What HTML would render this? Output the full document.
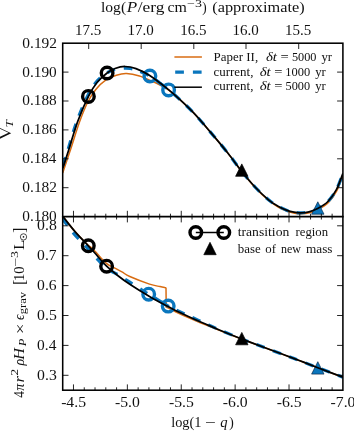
<!DOCTYPE html>
<html><head><meta charset="utf-8"><title>plot</title>
<style>
html,body{margin:0;padding:0;background:#fff;}
svg{display:block;will-change:transform;}
text{font-family:"Liberation Serif",serif;fill:#111;}
.i{font-style:italic;}
</style></head><body>
<svg width="354" height="432" viewBox="0 0 354 432">
<rect width="354" height="432" fill="#fff"/>
<defs><clipPath id="ct"><rect x="62.70" y="43.20" width="280.20" height="173.40"/></clipPath><clipPath id="cb"><rect x="62.70" y="216.60" width="280.20" height="173.60"/></clipPath></defs>
<g clip-path="url(#ct)" fill="none" stroke-linejoin="round">
<path d="M62.70,172.90 C63.98,169.08 67.60,158.48 70.40,150.00 C73.20,141.52 76.60,130.00 79.50,122.00 C82.40,114.00 85.08,107.43 87.80,102.00 C90.52,96.57 92.77,93.08 95.80,89.40 C98.83,85.72 102.57,82.27 106.00,79.90 C109.43,77.53 112.98,76.25 116.40,75.20 C119.82,74.15 122.65,73.47 126.50,73.60 C130.35,73.73 135.22,74.72 139.50,76.00 C143.78,77.28 148.62,79.72 152.20,81.30 C155.78,82.88 158.28,84.05 161.00,85.50 C163.72,86.95 165.28,87.58 168.50,90.00 C171.72,92.42 176.02,96.12 180.30,100.05 C184.58,103.97 189.20,108.23 194.20,113.55 C199.20,118.87 204.65,125.32 210.30,131.95 C215.95,138.58 222.80,146.70 228.10,153.35 C233.40,160.00 237.53,166.07 242.10,171.85 C246.67,177.62 251.02,183.18 255.50,188.00 C259.98,192.82 265.23,197.63 269.00,200.80 C272.77,203.97 275.02,205.23 278.10,207.00 C281.18,208.77 284.77,210.37 287.50,211.40 C290.23,212.43 292.18,212.80 294.50,213.20 C296.82,213.60 298.90,213.87 301.40,213.80 C303.90,213.73 306.70,213.50 309.50,212.80 C312.30,212.10 315.05,211.32 318.20,209.60 C321.35,207.88 325.28,205.67 328.40,202.50 C331.52,199.33 334.40,195.28 336.90,190.60 C339.40,185.92 342.32,177.10 343.40,174.40" stroke="#d86c12" stroke-width="1.5"/>
<path d="M62.70,166.50 C63.57,163.75 65.58,157.42 67.90,150.00 C70.22,142.58 73.32,131.00 76.60,122.00 C79.88,113.00 84.32,102.67 87.60,96.00 C90.88,89.33 93.30,85.70 96.30,82.00 C99.30,78.30 103.32,75.58 105.60,73.80 C107.88,72.02 108.33,72.03 110.00,71.30 C111.67,70.57 113.27,69.92 115.60,69.40 C117.93,68.88 121.55,68.35 124.00,68.20 C126.45,68.05 128.13,68.18 130.30,68.50 C132.47,68.82 133.73,68.85 137.00,70.10 C140.27,71.35 146.07,73.82 149.90,76.00 C153.73,78.18 156.88,80.88 160.00,83.20 C163.12,85.52 167.17,88.78 168.60,89.90" stroke="#0a76bd" stroke-width="3.2" stroke-dasharray="8.7 8.7" stroke-dashoffset="-1.2"/>
<path d="M160.00,83.20 C161.43,84.32 165.27,87.15 168.60,89.90 C171.93,92.65 175.78,95.82 180.00,99.70 C184.22,103.58 188.90,107.88 193.90,113.20 C198.90,118.52 204.35,124.97 210.00,131.60 C215.65,138.23 222.50,146.35 227.80,153.00 C233.10,159.65 237.27,165.83 241.80,171.50 C246.33,177.17 250.55,182.28 255.00,187.00 C259.45,191.72 264.73,196.63 268.50,199.80 C272.27,202.97 274.52,204.23 277.60,206.00 C280.68,207.77 284.27,209.37 287.00,210.40 C289.73,211.43 291.68,211.80 294.00,212.20 C296.32,212.60 298.40,212.87 300.90,212.80 C303.40,212.73 306.20,212.50 309.00,211.80 C311.80,211.10 314.55,210.32 317.70,208.60 C320.85,206.88 324.78,204.67 327.90,201.50 C331.02,198.33 333.90,194.28 336.40,189.60 C338.90,184.92 341.82,176.10 342.90,173.40" stroke="#0a76bd" stroke-width="3.2" stroke-dasharray="8.7 8.7" stroke-dashoffset="0.3"/>
<circle cx="149.9" cy="76.0" r="5.80" fill="none" stroke="#0a76bd" stroke-width="3.4"/>
<circle cx="168.6" cy="89.9" r="5.80" fill="none" stroke="#0a76bd" stroke-width="3.4"/>
<path d="M317.80,201.80 L324.00,214.20 L311.60,214.20 Z" fill="#0a76bd" stroke="#0a2a4a" stroke-width="0.7" stroke-linejoin="miter"/>
<path d="M62.70,168.50 C63.70,165.42 66.23,157.75 68.70,150.00 C71.17,142.25 74.22,130.93 77.50,122.00 C80.78,113.07 85.15,102.98 88.40,96.40 C91.65,89.82 93.88,86.40 97.00,82.50 C100.12,78.60 104.10,75.33 107.10,73.00 C110.10,70.67 112.02,69.58 115.00,68.50 C117.98,67.42 121.50,66.48 125.00,66.50 C128.50,66.52 131.88,67.10 136.00,68.60 C140.12,70.10 144.28,72.00 149.70,75.50 C155.12,79.00 163.45,85.57 168.50,89.60 C173.55,93.63 175.77,95.77 180.00,99.70 C184.23,103.63 188.90,107.88 193.90,113.20 C198.90,118.52 204.35,124.97 210.00,131.60 C215.65,138.23 222.50,146.35 227.80,153.00 C233.10,159.65 237.27,165.83 241.80,171.50 C246.33,177.17 250.55,182.28 255.00,187.00 C259.45,191.72 264.73,196.63 268.50,199.80 C272.27,202.97 274.52,204.23 277.60,206.00 C280.68,207.77 284.27,209.37 287.00,210.40 C289.73,211.43 291.68,211.80 294.00,212.20 C296.32,212.60 298.40,212.87 300.90,212.80 C303.40,212.73 306.20,212.50 309.00,211.80 C311.80,211.10 314.55,210.32 317.70,208.60 C320.85,206.88 324.78,204.67 327.90,201.50 C331.02,198.33 333.90,194.28 336.40,189.60 C338.90,184.92 341.82,176.10 342.90,173.40" stroke="#000" stroke-width="1.75"/>
<circle cx="88.4" cy="96.4" r="5.80" fill="none" stroke="#000" stroke-width="3.4"/>
<circle cx="107.1" cy="73.0" r="5.80" fill="none" stroke="#000" stroke-width="3.4"/>
<path d="M241.80,163.90 L248.00,176.30 L235.60,176.30 Z" fill="#000" stroke="#000" stroke-width="0.7" stroke-linejoin="miter"/>
</g>
<g clip-path="url(#cb)" fill="none" stroke-linejoin="miter">
<path d="M62.70,216.60 C64.75,219.08 71.45,227.40 75.00,231.50 C78.55,235.60 81.78,238.90 84.00,241.20 C86.22,243.50 86.97,244.10 88.30,245.30 C89.63,246.50 90.80,247.32 92.00,248.40 C93.20,249.48 93.97,250.15 95.50,251.80 C97.03,253.45 99.38,256.38 101.20,258.30 C103.02,260.22 104.87,262.03 106.40,263.30 C107.93,264.57 108.82,265.00 110.40,265.90 C111.98,266.80 113.90,267.65 115.90,268.70 C117.90,269.75 120.08,270.90 122.40,272.20 C124.72,273.50 125.28,274.52 129.80,276.50 C134.32,278.48 144.47,282.42 149.50,284.10 C154.53,285.78 157.32,285.98 160.00,286.60 C162.68,287.22 164.67,287.60 165.60,287.80 L166.0,288.2 L166.2,307.0 C167.83,307.83 172.03,310.12 176.00,312.00 C179.97,313.88 185.17,316.20 190.00,318.30 C194.83,320.40 200.10,322.58 205.00,324.60 C209.90,326.62 213.27,327.98 219.40,330.40 C225.53,332.82 236.70,337.13 241.80,339.10 C246.90,341.07 242.97,339.57 250.00,342.20 C257.03,344.83 275.67,351.78 284.00,354.90 C292.33,358.02 294.37,358.75 300.00,360.90 C305.63,363.05 310.65,365.07 317.80,367.80 C324.95,370.53 338.72,375.72 342.90,377.30" stroke="#d86c12" stroke-width="1.5"/>
<path d="M61.60,217.50 C63.58,220.10 69.30,228.13 73.50,233.10 C77.70,238.07 83.12,243.30 86.80,247.30 C90.48,251.30 92.57,253.78 95.60,257.10 C98.63,260.42 102.35,264.82 105.00,267.20 C107.65,269.58 109.67,270.33 111.50,271.40 C113.33,272.47 113.08,271.88 116.00,273.60 C118.92,275.32 124.67,278.95 129.00,281.70 C133.33,284.45 138.73,288.02 142.00,290.10 C145.27,292.18 146.02,292.62 148.60,294.20 C151.18,295.78 154.23,297.62 157.50,299.60 C160.77,301.58 166.42,305.02 168.20,306.10" stroke="#0a76bd" stroke-width="3.2" stroke-dasharray="8.7 9.0" stroke-dashoffset="-1.0"/>
<path d="M157.50,299.60 C159.28,300.68 165.12,304.38 168.20,306.10 C171.28,307.82 172.37,308.18 176.00,309.90 C179.63,311.62 185.17,314.17 190.00,316.40 C194.83,318.63 200.10,321.07 205.00,323.30 C209.90,325.53 213.27,327.18 219.40,329.80 C225.53,332.42 236.70,336.95 241.80,339.00 C246.90,341.05 242.97,339.47 250.00,342.10 C257.03,344.73 275.67,351.68 284.00,354.80 C292.33,357.92 294.37,358.65 300.00,360.80 C305.63,362.95 310.65,364.97 317.80,367.70 C324.95,370.43 338.72,375.62 342.90,377.20" stroke="#0a76bd" stroke-width="3.2" stroke-dasharray="8.7 8.7" stroke-dashoffset="-4.5"/>
<circle cx="148.7" cy="294.2" r="5.80" fill="none" stroke="#0a76bd" stroke-width="3.4"/>
<circle cx="168.2" cy="306.1" r="5.80" fill="none" stroke="#0a76bd" stroke-width="3.4"/>
<path d="M317.80,361.70 L324.00,374.10 L311.60,374.10 Z" fill="#0a76bd" stroke="#0a2a4a" stroke-width="0.7" stroke-linejoin="miter"/>
<path d="M62.70,216.20 C64.75,218.77 70.73,226.67 75.00,231.60 C79.27,236.53 84.63,241.82 88.30,245.80 C91.97,249.78 93.95,252.10 97.00,255.50 C100.05,258.90 103.10,262.83 106.60,266.20 C110.10,269.57 114.13,272.68 118.00,275.70 C121.87,278.72 124.55,280.83 129.80,284.30 C135.05,287.77 143.22,292.85 149.50,296.50 C155.78,300.15 163.08,303.83 167.50,306.20 C171.92,308.57 172.25,308.87 176.00,310.70 C179.75,312.53 185.17,315.02 190.00,317.20 C194.83,319.38 200.10,321.67 205.00,323.80 C209.90,325.93 213.27,327.47 219.40,330.00 C225.53,332.53 236.70,336.98 241.80,339.00 C246.90,341.02 242.97,339.47 250.00,342.10 C257.03,344.73 275.67,351.68 284.00,354.80 C292.33,357.92 294.37,358.65 300.00,360.80 C305.63,362.95 310.65,364.97 317.80,367.70 C324.95,370.43 338.72,375.62 342.90,377.20" stroke="#000" stroke-width="1.75"/>
<circle cx="88.3" cy="245.8" r="5.80" fill="none" stroke="#000" stroke-width="3.4"/>
<circle cx="106.6" cy="266.2" r="5.80" fill="none" stroke="#000" stroke-width="3.4"/>
<path d="M241.80,332.40 L248.00,344.80 L235.60,344.80 Z" fill="#000" stroke="#000" stroke-width="0.7" stroke-linejoin="miter"/>
</g>
<g fill="none" stroke="#000" stroke-width="1.55" stroke-linecap="square">
<rect x="62.70" y="43.20" width="280.20" height="347.00"/>
<line x1="62.70" y1="216.60" x2="342.90" y2="216.60"/>
</g>
<g stroke="#000" stroke-width="0.85">
<line x1="73.48" y1="390.20" x2="73.48" y2="384.40"/>
<line x1="73.48" y1="210.80" x2="73.48" y2="222.40"/>
<line x1="127.36" y1="390.20" x2="127.36" y2="384.40"/>
<line x1="127.36" y1="210.80" x2="127.36" y2="222.40"/>
<line x1="181.25" y1="390.20" x2="181.25" y2="384.40"/>
<line x1="181.25" y1="210.80" x2="181.25" y2="222.40"/>
<line x1="235.13" y1="390.20" x2="235.13" y2="384.40"/>
<line x1="235.13" y1="210.80" x2="235.13" y2="222.40"/>
<line x1="289.02" y1="390.20" x2="289.02" y2="384.40"/>
<line x1="289.02" y1="210.80" x2="289.02" y2="222.40"/>
<line x1="84.25" y1="390.20" x2="84.25" y2="387.30"/>
<line x1="84.25" y1="213.70" x2="84.25" y2="219.50"/>
<line x1="95.03" y1="390.20" x2="95.03" y2="387.30"/>
<line x1="95.03" y1="213.70" x2="95.03" y2="219.50"/>
<line x1="105.81" y1="390.20" x2="105.81" y2="387.30"/>
<line x1="105.81" y1="213.70" x2="105.81" y2="219.50"/>
<line x1="116.58" y1="390.20" x2="116.58" y2="387.30"/>
<line x1="116.58" y1="213.70" x2="116.58" y2="219.50"/>
<line x1="138.14" y1="390.20" x2="138.14" y2="387.30"/>
<line x1="138.14" y1="213.70" x2="138.14" y2="219.50"/>
<line x1="148.92" y1="390.20" x2="148.92" y2="387.30"/>
<line x1="148.92" y1="213.70" x2="148.92" y2="219.50"/>
<line x1="159.69" y1="390.20" x2="159.69" y2="387.30"/>
<line x1="159.69" y1="213.70" x2="159.69" y2="219.50"/>
<line x1="170.47" y1="390.20" x2="170.47" y2="387.30"/>
<line x1="170.47" y1="213.70" x2="170.47" y2="219.50"/>
<line x1="192.02" y1="390.20" x2="192.02" y2="387.30"/>
<line x1="192.02" y1="213.70" x2="192.02" y2="219.50"/>
<line x1="202.80" y1="390.20" x2="202.80" y2="387.30"/>
<line x1="202.80" y1="213.70" x2="202.80" y2="219.50"/>
<line x1="213.58" y1="390.20" x2="213.58" y2="387.30"/>
<line x1="213.58" y1="213.70" x2="213.58" y2="219.50"/>
<line x1="224.35" y1="390.20" x2="224.35" y2="387.30"/>
<line x1="224.35" y1="213.70" x2="224.35" y2="219.50"/>
<line x1="245.91" y1="390.20" x2="245.91" y2="387.30"/>
<line x1="245.91" y1="213.70" x2="245.91" y2="219.50"/>
<line x1="256.68" y1="390.20" x2="256.68" y2="387.30"/>
<line x1="256.68" y1="213.70" x2="256.68" y2="219.50"/>
<line x1="267.46" y1="390.20" x2="267.46" y2="387.30"/>
<line x1="267.46" y1="213.70" x2="267.46" y2="219.50"/>
<line x1="278.24" y1="390.20" x2="278.24" y2="387.30"/>
<line x1="278.24" y1="213.70" x2="278.24" y2="219.50"/>
<line x1="299.79" y1="390.20" x2="299.79" y2="387.30"/>
<line x1="299.79" y1="213.70" x2="299.79" y2="219.50"/>
<line x1="310.57" y1="390.20" x2="310.57" y2="387.30"/>
<line x1="310.57" y1="213.70" x2="310.57" y2="219.50"/>
<line x1="321.35" y1="390.20" x2="321.35" y2="387.30"/>
<line x1="321.35" y1="213.70" x2="321.35" y2="219.50"/>
<line x1="332.12" y1="390.20" x2="332.12" y2="387.30"/>
<line x1="332.12" y1="213.70" x2="332.12" y2="219.50"/>
<line x1="88.70" y1="43.20" x2="88.70" y2="49.00"/>
<line x1="141.20" y1="43.20" x2="141.20" y2="49.00"/>
<line x1="193.80" y1="43.20" x2="193.80" y2="49.00"/>
<line x1="246.00" y1="43.20" x2="246.00" y2="49.00"/>
<line x1="298.70" y1="43.20" x2="298.70" y2="49.00"/>
<line x1="62.70" y1="72.10" x2="68.50" y2="72.10"/>
<line x1="342.90" y1="72.10" x2="337.10" y2="72.10"/>
<line x1="62.70" y1="101.00" x2="68.50" y2="101.00"/>
<line x1="342.90" y1="101.00" x2="337.10" y2="101.00"/>
<line x1="62.70" y1="129.90" x2="68.50" y2="129.90"/>
<line x1="342.90" y1="129.90" x2="337.10" y2="129.90"/>
<line x1="62.70" y1="158.80" x2="68.50" y2="158.80"/>
<line x1="342.90" y1="158.80" x2="337.10" y2="158.80"/>
<line x1="62.70" y1="187.70" x2="68.50" y2="187.70"/>
<line x1="342.90" y1="187.70" x2="337.10" y2="187.70"/>
<line x1="62.70" y1="225.80" x2="68.50" y2="225.80"/>
<line x1="342.90" y1="225.80" x2="337.10" y2="225.80"/>
<line x1="62.70" y1="255.70" x2="68.50" y2="255.70"/>
<line x1="342.90" y1="255.70" x2="337.10" y2="255.70"/>
<line x1="62.70" y1="285.60" x2="68.50" y2="285.60"/>
<line x1="342.90" y1="285.60" x2="337.10" y2="285.60"/>
<line x1="62.70" y1="315.50" x2="68.50" y2="315.50"/>
<line x1="342.90" y1="315.50" x2="337.10" y2="315.50"/>
<line x1="62.70" y1="345.40" x2="68.50" y2="345.40"/>
<line x1="342.90" y1="345.40" x2="337.10" y2="345.40"/>
<line x1="62.70" y1="375.30" x2="68.50" y2="375.30"/>
<line x1="342.90" y1="375.30" x2="337.10" y2="375.30"/>
</g>
<text transform="translate(61.14,407.30) scale(1.108,1.000)" font-size="14.20">-4.5</text>
<text transform="translate(115.03,407.30) scale(1.107,1.000)" font-size="14.20">-5.0</text>
<text transform="translate(168.91,407.30) scale(1.108,1.000)" font-size="14.20">-5.5</text>
<text transform="translate(222.80,407.30) scale(1.107,1.000)" font-size="14.20">-6.0</text>
<text transform="translate(276.68,407.30) scale(1.108,1.000)" font-size="14.20">-6.5</text>
<text transform="translate(330.57,407.30) scale(1.107,1.000)" font-size="14.20">-7.0</text>
<text transform="translate(75.08,34.50) scale(1.059,1.000)" font-size="14.20">17.5</text>
<text transform="translate(127.58,34.50) scale(1.058,1.000)" font-size="14.20">17.0</text>
<text transform="translate(180.18,34.50) scale(1.059,1.000)" font-size="14.20">16.5</text>
<text transform="translate(232.38,34.50) scale(1.058,1.000)" font-size="14.20">16.0</text>
<text transform="translate(285.08,34.50) scale(1.059,1.000)" font-size="14.20">15.5</text>
<text transform="translate(22.31,47.60) scale(1.087,1.000)" font-size="14.20">0.192</text>
<text transform="translate(22.32,76.50) scale(1.079,1.000)" font-size="14.20">0.190</text>
<text transform="translate(22.32,105.40) scale(1.079,1.000)" font-size="14.20">0.188</text>
<text transform="translate(22.32,134.30) scale(1.075,1.000)" font-size="14.20">0.186</text>
<text transform="translate(22.32,163.20) scale(1.068,1.000)" font-size="14.20">0.184</text>
<text transform="translate(22.31,192.10) scale(1.087,1.000)" font-size="14.20">0.182</text>
<text transform="translate(22.32,221.00) scale(1.079,1.000)" font-size="14.20">0.180</text>
<text transform="translate(37.10,230.30) scale(1.110,1.000)" font-size="14.20">0.8</text>
<text transform="translate(37.10,260.20) scale(1.101,1.000)" font-size="14.20">0.7</text>
<text transform="translate(37.10,290.10) scale(1.102,1.000)" font-size="14.20">0.6</text>
<text transform="translate(37.10,320.00) scale(1.111,1.000)" font-size="14.20">0.5</text>
<text transform="translate(37.11,349.90) scale(1.089,1.000)" font-size="14.20">0.4</text>
<text transform="translate(37.10,379.80) scale(1.111,1.000)" font-size="14.20">0.3</text>
<text transform="translate(100.99,12.30) scale(1.098,1.000)" font-size="14.20">log(</text>
<text transform="translate(126.79,12.30) scale(1.204,1.000)" font-size="14.20" class="i">P</text>
<text transform="translate(137.70,12.30) scale(1.224,1.000)" font-size="14.20">/erg</text>
<text transform="translate(167.39,12.30) scale(1.121,1.000)" font-size="14.20">cm</text>
<text transform="translate(187.11,6.90) scale(1.395,1.000)" font-size="10.00">−3</text>
<text transform="translate(202.37,12.30) scale(0.932,1.000)" font-size="14.20">)</text>
<text transform="translate(212.28,12.30) scale(1.149,1.000)" font-size="14.20">(approximate)</text>
<text transform="translate(171.21,427.30) scale(1.009,1.000)" font-size="14.20">log(1</text>
<text transform="translate(204.85,427.30) scale(1.347,1.000)" font-size="14.20">−</text>
<text transform="translate(220.31,427.30) scale(1.032,1.000)" font-size="14.20" class="i">q</text>
<text transform="translate(229.36,427.30) scale(0.960,1.000)" font-size="14.20">)</text>
<g fill="none">
<line x1="174.4" y1="57" x2="201.9" y2="57" stroke="#d86c12" stroke-width="1.5"/>
<line x1="174.4" y1="72.1" x2="201.9" y2="72.1" stroke="#0a76bd" stroke-width="3.2" stroke-dasharray="8.7 9.0" stroke-dashoffset="-0.8"/>
<line x1="174.4" y1="87.2" x2="201.9" y2="87.2" stroke="#000" stroke-width="1.5"/>
</g>
<text transform="translate(213.53,60.60) scale(1.119,1.000)" font-size="11.60">Paper II,</text>
<text transform="translate(265.96,60.60) scale(1.281,1.000)" font-size="11.60" class="i">δt</text>
<text transform="translate(280.47,60.60) scale(1.260,1.000)" font-size="11.60">=</text>
<text transform="translate(291.89,60.60) scale(1.060,1.000)" font-size="11.60">5000</text>
<text transform="translate(321.44,60.60) scale(1.104,1.000)" font-size="11.60">yr</text>
<text transform="translate(213.41,75.60) scale(1.119,1.000)" font-size="11.60">current,</text>
<text transform="translate(259.66,75.60) scale(1.281,1.000)" font-size="11.60" class="i">δt</text>
<text transform="translate(274.17,75.60) scale(1.260,1.000)" font-size="11.60">=</text>
<text transform="translate(285.20,75.60) scale(1.076,1.000)" font-size="11.60">1000</text>
<text transform="translate(315.14,75.60) scale(1.104,1.000)" font-size="11.60">yr</text>
<text transform="translate(213.41,90.30) scale(1.119,1.000)" font-size="11.60">current,</text>
<text transform="translate(259.66,90.30) scale(1.281,1.000)" font-size="11.60" class="i">δt</text>
<text transform="translate(274.17,90.30) scale(1.260,1.000)" font-size="11.60">=</text>
<text transform="translate(285.59,90.30) scale(1.060,1.000)" font-size="11.60">5000</text>
<text transform="translate(315.14,90.30) scale(1.104,1.000)" font-size="11.60">yr</text>
<line x1="195.8" y1="232.5" x2="223.8" y2="232.5" stroke="#000" stroke-width="1.5"/>
<circle cx="195.8" cy="232.5" r="5.80" fill="none" stroke="#000" stroke-width="3.4"/>
<circle cx="223.8" cy="232.5" r="5.80" fill="none" stroke="#000" stroke-width="3.4"/>
<path d="M210.00,242.30 L216.20,254.70 L203.80,254.70 Z" fill="#000" stroke="#000" stroke-width="0.7" stroke-linejoin="miter"/>
<text transform="translate(237.67,236.00) scale(1.179,1.000)" font-size="11.60">transition</text>
<text transform="translate(295.54,236.00) scale(1.098,1.000)" font-size="11.60">region</text>
<text transform="translate(237.80,252.70) scale(1.113,1.000)" font-size="11.60">base</text>
<text transform="translate(265.31,252.70) scale(1.106,1.000)" font-size="11.60">of</text>
<text transform="translate(281.02,252.70) scale(1.036,1.000)" font-size="11.60">new</text>
<text transform="translate(305.92,252.70) scale(1.145,1.000)" font-size="11.60">mass</text>
<g transform="translate(11.2,133.3) rotate(-90)">
<path d="M-6.0,-12.6 L6.0,-12.6 L0,0 Z M-3.69,-11.7 L0.61,-2.67 L4.91,-11.7 Z" fill="#111" fill-rule="evenodd"/>
<text transform="translate(5.83,1.70) scale(1.277,1.000)" font-size="10.40" class="i">T</text>
</g>
<g transform="translate(24.3,397.6) rotate(-90)">
<text transform="translate(-0.06,0.00) scale(0.939,1.000)" font-size="14.20">4</text>
<text transform="translate(6.92,0.00) scale(1.005,1.000)" font-size="14.20" class="i">π</text>
<text transform="translate(15.01,0.00) scale(1.202,1.000)" font-size="14.20" class="i">r</text>
<text transform="translate(22.02,-6.70) scale(1.349,1.000)" font-size="9.80">2</text>
<text transform="translate(32.05,0.00) scale(0.978,1.000)" font-size="14.20" class="i">ρ</text>
<text transform="translate(37.87,0.00) scale(1.141,1.000)" font-size="14.20" class="i">H</text>
<text transform="translate(51.27,1.60) scale(1.204,1.000)" font-size="10.40" class="i">P</text>
<text transform="translate(63.38,1.10) scale(1.350,1.000)" font-size="14.20">×</text>
<text transform="translate(77.60,0.00) scale(0.956,1.000)" font-size="14.20" class="i">ϵ</text>
<text transform="translate(83.46,1.60) scale(1.203,1.000)" font-size="10.40">grav</text>
<text transform="translate(112.53,0.30) scale(1.107,1.217)" font-size="14.20">[</text>
<text transform="translate(116.52,0.00) scale(1.023,1.000)" font-size="14.20">10</text>
<text transform="translate(131.09,-5.80) scale(1.570,1.000)" font-size="10.40">−</text>
<text transform="translate(139.53,-6.70) scale(1.433,1.040)" font-size="9.80">3</text>
<text transform="translate(147.71,0.00) scale(1.187,1.000)" font-size="14.20">L</text>
<circle cx="160.7" cy="-0.8" r="3.15" fill="none" stroke="#111" stroke-width="0.75"/><circle cx="160.7" cy="-0.8" r="0.8" fill="#111"/>
<text transform="translate(164.85,0.30) scale(1.075,1.217)" font-size="14.20">]</text>
</g>
</svg></body></html>
